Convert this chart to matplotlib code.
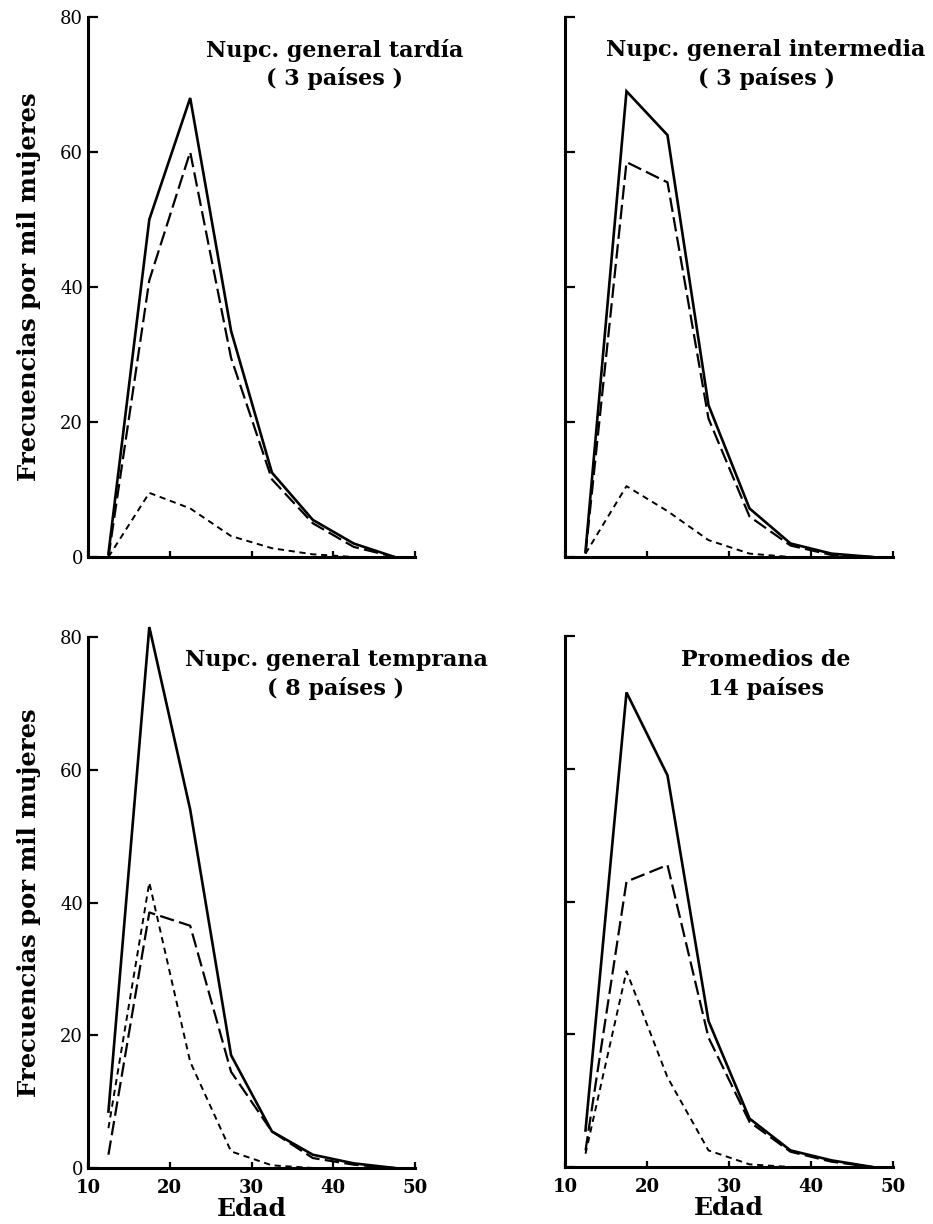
import matplotlib
matplotlib.use("Agg")
import matplotlib.pyplot as plt

ages = [12.5, 17.5, 22.5, 27.5, 32.5, 37.5, 42.5, 47.5]

tardia_total = [0.5, 50, 68, 33.5, 12.5, 5.5, 2, 0]
tardia_marital = [0, 41, 60, 29.5, 11.5, 5, 1.5, 0]
tardia_extra = [0, 9.5, 7.2, 3.1, 1.3, 0.4, 0, 0]

intermedia_total = [0.8, 69, 62.5, 22.5, 7.2, 2, 0.5, 0]
intermedia_marital = [0.5, 58.5, 55.5, 20.5, 6, 1.7, 0.3, 0]
intermedia_extra = [0.5, 10.5, 6.8, 2.5, 0.5, 0, 0, 0]

temprana_total = [8.5, 81.5, 54, 17, 5.5, 2, 0.7, 0]
temprana_marital = [2, 38.5, 36.5, 14.5, 5.5, 1.5, 0.5, 0]
temprana_extra = [6, 43, 16, 2.5, 0.4, 0, 0, 0]

promedios_total = [5.5, 71.5, 59, 22, 7.3, 2.5, 1, 0]
promedios_marital = [2.5, 43, 45.5, 19.5, 6.8, 2.3, 0.8, 0]
promedios_extra = [2, 29.5, 13.5, 2.5, 0.4, 0, 0, 0]

titles = [
    ("Nupc. general tardía", "( 3 países )"),
    ("Nupc. general intermedia", "( 3 países )"),
    ("Nupc. general temprana", "( 8 países )"),
    ("Promedios de", "14 países"),
]
yticks = [0, 20, 40, 60, 80]
xticks = [10, 20, 30, 40, 50]
ylabel = "Frecuencias por mil mujeres"
xlabel = "Edad"

W, H = 933, 1224
fig = plt.figure(figsize=(W / 100, H / 100), dpi=100)
serif = ["DejaVu Serif"]

# axes pixel boxes: left, top, right, bottom
boxes = [
    (88, 17, 415, 557),
    (565, 17, 893, 557),
    (88, 637, 415, 1168),
    (565, 636, 893, 1167),
]
data = [
    (tardia_total, tardia_marital, tardia_extra),
    (intermedia_total, intermedia_marital, intermedia_extra),
    (temprana_total, temprana_marital, temprana_extra),
    (promedios_total, promedios_marital, promedios_extra),
]
title_pos = [
    (335, 50, 79),
    (766, 50, 79),
    (336, 660, 689),
    (766, 660, 689),
]

for i, (box, series, tp, tt) in enumerate(zip(boxes, data, title_pos, titles)):
    l, t, r, b = box
    ax = fig.add_axes([l / W, 1 - b / H, (r - l) / W, (b - t) / H])
    tot, mar, ext = series
    ax.plot(ages, tot, color="black", lw=1.9, clip_on=False, solid_joinstyle="miter")
    ax.plot(ages, mar, color="black", lw=1.6, dashes=(6.5, 2.4), clip_on=False)
    ax.plot(ages, ext, color="black", lw=1.4, dashes=(3.2, 2.4), clip_on=False)
    ax.set_xlim(10, 50)
    ax.set_ylim(0, 80)
    for s in ["top", "right"]:
        ax.spines[s].set_visible(False)
    for s in ["left", "bottom"]:
        ax.spines[s].set_linewidth(2.2)
    ax.set_yticks(yticks)
    ax.set_xticks(xticks)
    ax.tick_params(axis="y", direction="in", length=7, width=1.6)
    ax.tick_params(axis="x", direction="in", length=4, width=1.6)
    if i % 2 == 0:
        ax.set_yticklabels([str(v) for v in yticks], fontsize=13, family=serif)
        ax.set_ylabel(ylabel, fontsize=17.5, fontweight="bold", family=serif, labelpad=14)
    else:
        ax.set_yticklabels([])
    if i >= 2:
        ax.set_xticklabels([str(v) for v in xticks], fontsize=13, fontweight="bold", family=serif)
        ax.tick_params(axis="x", pad=8)
        ax.set_xlabel(xlabel, fontsize=18, fontweight="bold", family=serif, labelpad=0)
    else:
        ax.set_xticklabels([])
    cx, y1, y2 = tp
    fig.text(cx / W, 1 - y1 / H, tt[0], ha="center", va="center", fontsize=16,
             fontweight="bold", family=serif)
    fig.text(cx / W, 1 - y2 / H, tt[1], ha="center", va="center", fontsize=16,
             fontweight="bold", family=serif)

fig.savefig("out.png", dpi=100)
